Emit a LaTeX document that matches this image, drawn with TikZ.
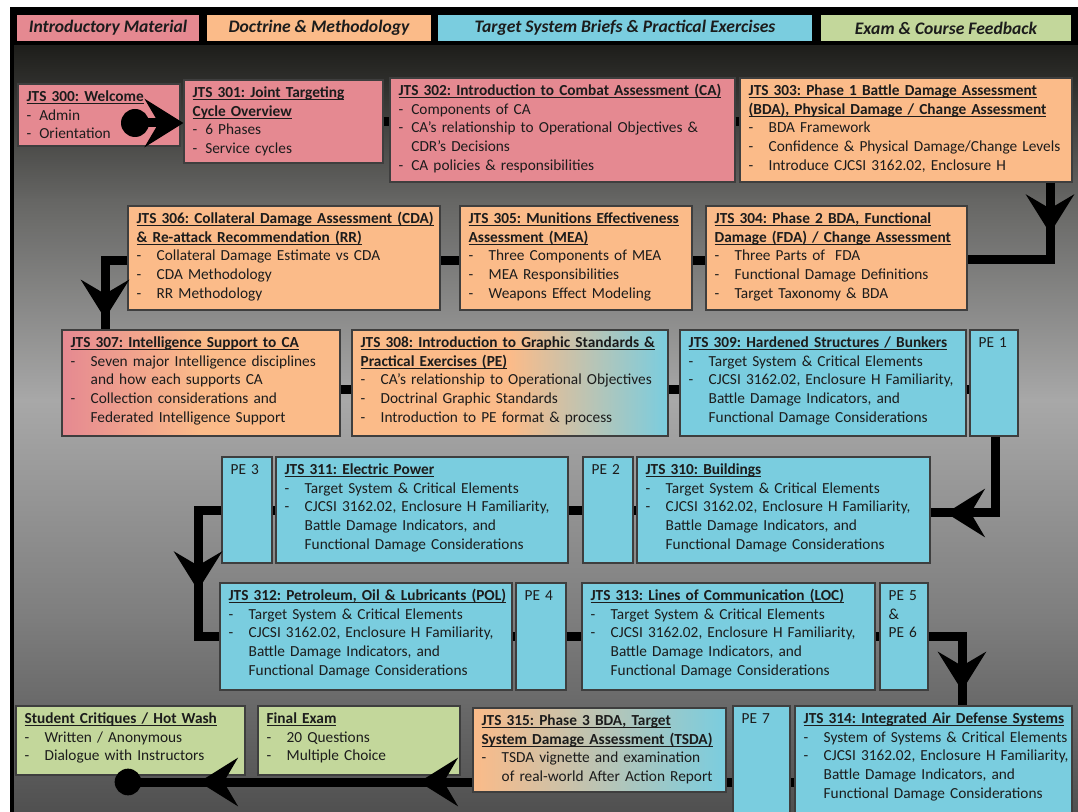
\documentclass[tikz,border=0pt]{standalone}
\usepackage{fontspec}
\setmainfont{Carlito}
\usetikzlibrary{%
  arrows.meta,%
  calc,%
  fit,%
  decorations.markings%
}
\frenchspacing

\definecolor{intro}{RGB}{229,137,145}
\definecolor{doctrine}{RGB}{251,187,137}
\definecolor{target}{RGB}{122,205,223}
\definecolor{exam}{RGB}{195,215,155}
\definecolor{edge}{RGB}{62,62,62}
\definecolor{ink}{RGB}{28,28,28}
\definecolor{bgA}{RGB}{30,30,27}
\definecolor{bgB}{RGB}{102,102,100}
\definecolor{bgC}{RGB}{168,168,168}
\definecolor{bgD}{RGB}{125,125,125}
\definecolor{bgE}{RGB}{80,80,80}

\newcommand{\tit}[1]{\textbf{\setbox0\hbox{#1}\rlap{\rule[-1.8pt]{\wd0}{0.7pt}}\box0}}
\newcommand{\itm}{\makebox[15pt][l]{-}}
\newcommand{\itn}{\makebox[9.5pt][l]{-}}
\newcommand{\ind}{\hspace*{15pt}}
\newcommand{\course}[4]{%
  \node[cbox,#2,fit={#3}] (#1) {};
  \node[ctext] (#1-t) at ([shift={(9,18)}]#1.north west) {#4};}

\tikzset{
  cbox/.style={draw=edge,line width=0.9pt,inner sep=0pt,rectangle},
  ctext/.style={anchor=base west,align=left,text width=300pt,inner sep=0pt,
    text=ink,font=\fontsize{11.5}{14}\selectfont},
  hbox/.style={draw=black,line width=0.8pt,inner sep=0pt,text=ink,
    minimum height=21pt,font=\fontsize{13.2}{15}\selectfont\bfseries\itshape},
  flow/.style={line width=6.75pt,black},
  flowtip/.tip={Stealth[length=29pt,width=36pt,inset=10.5pt]},
  midtip/.style={postaction={decorate},
    decoration={markings,mark=at position #1 with {\arrow{flowtip}}}}
}

\begin{document}
\begin{tikzpicture}[x=0.75pt,y=-0.75pt]
    \useasboundingbox (0,0) rectangle (1078,812);
    % frame and background
    \fill[black] (10,7) rectangle (1078,812);
    \shade[top color=bgA,bottom color=bgB] (14,46) rectangle (1078,201);
    \shade[top color=bgB,bottom color=bgC] (14,200) rectangle (1078,401);
    \shade[top color=bgC,bottom color=bgD] (14,400) rectangle (1078,621);
    \shade[top color=bgD,bottom color=bgE] (14,620) rectangle (1078,812);

    % legend
    \node[hbox,fill=intro,minimum width=138pt] (h1) at (108,28) {Introductory Material};
    \node[hbox,fill=doctrine,minimum width=169.5pt] (h2) at (319,28) {Doctrine \& Methodology};
    \node[hbox,fill=target,minimum width=282pt] (h3) at (625,28) {Target System Briefs \& Practical Exercises};
    \node[hbox,fill=exam,minimum width=189pt] (h4) at (946,28) {Exam \& Course Feedback};

    % row 1
    \course{j300}{fill=intro}{(18,84) (180,146)}{\tit{JTS 300: Welcome}\\\itn Admin\\\itn Orientation}
    \course{j301}{fill=intro}{(184,80) (383,163)}{\tit{JTS 301: Joint Targeting}\\\tit{Cycle Overview}\\\itn 6 Phases\\\itn Service cycles}
    \course{j302}{fill=intro}{(390,78) (735,182)}{\tit{JTS 302: Introduction to Combat Assessment (CA)}\\\itn Components of CA\\\itn CA’s relationship to Operational Objectives \&\\\hspace*{9.5pt}CDR’s Decisions\\\itn CA policies \& responsibilities}
    \course{j303}{fill=doctrine}{(740,78) (1072,182)}{\tit{JTS 303: Phase 1 Battle Damage Assessment}\\\tit{(BDA), Physical Damage / Change Assessment}\\\itm BDA Framework\\\itm Confidence \& Physical Damage/Change Levels\\\itm Introduce CJCSI 3162.02, Enclosure H}

    % row 2
    \course{j306}{fill=doctrine}{(128,206) (440,310)}{\tit{JTS 306: Collateral Damage Assessment (CDA)}\\\tit{\& Re-attack Recommendation (RR)}\\\itm Collateral Damage Estimate vs CDA\\\itm CDA Methodology\\\itm RR Methodology}
    \course{j305}{fill=doctrine}{(460,206) (692,310)}{\tit{JTS 305: Munitions Effectiveness}\\\tit{Assessment (MEA)}\\\itm Three Components of MEA\\\itm MEA Responsibilities\\\itm Weapons Effect Modeling}
    \course{j304}{fill=doctrine}{(706,206) (967,310)}{\tit{JTS 304: Phase 2 BDA, Functional}\\\tit{Damage (FDA) / Change Assessment}\\\itm Three Parts of~ FDA\\\itm Functional Damage Definitions\\\itm Target Taxonomy \& BDA}

    % row 3
    \course{j307}{left color=intro,right color=doctrine,middle color=doctrine}{(62,330) (340,436)}{\tit{JTS 307: Intelligence Support to CA}\\\itm Seven major Intelligence disciplines\\\ind and how each supports CA\\\itm Collection considerations and\\\ind Federated Intelligence Support}
    \course{j308}{left color=doctrine,right color=target,middle color=doctrine}{(352,330) (668,436)}{\tit{JTS 308: Introduction to Graphic Standards \&}\\\tit{Practical Exercises (PE)}\\\itm CA’s relationship to Operational Objectives\\\itm Doctrinal Graphic Standards\\\itm Introduction to PE format \& process}
    \course{j309}{fill=target}{(680,330) (966,436)}{\tit{JTS 309: Hardened Structures / Bunkers}\\\itm Target System \& Critical Elements\\\itm CJCSI 3162.02, Enclosure H Familiarity,\\\ind Battle Damage Indicators, and\\\ind Functional Damage Considerations}
    \course{pe1}{fill=target}{(970,330) (1018,436)}{PE 1}

    % row 4
    \course{pe3}{fill=target}{(222,457) (272,563)}{PE 3}
    \course{j311}{fill=target}{(276,457) (568,563)}{\tit{JTS 311: Electric Power}\\\itm Target System \& Critical Elements\\\itm CJCSI 3162.02, Enclosure H Familiarity,\\\ind Battle Damage Indicators, and\\\ind Functional Damage Considerations}
    \course{pe2}{fill=target}{(583,457) (633,563)}{PE 2}
    \course{j310}{fill=target}{(637,457) (930,563)}{\tit{JTS 310: Buildings}\\\itm Target System \& Critical Elements\\\itm CJCSI 3162.02, Enclosure H Familiarity,\\\ind Battle Damage Indicators, and\\\ind Functional Damage Considerations}

    % row 5
    \course{j312}{fill=target}{(220,583) (512,690)}{\tit{JTS 312: Petroleum, Oil \& Lubricants (POL)}\\\itm Target System \& Critical Elements\\\itm CJCSI 3162.02, Enclosure H Familiarity,\\\ind Battle Damage Indicators, and\\\ind Functional Damage Considerations}
    \course{pe4}{fill=target}{(516,583) (566,690)}{PE 4}
    \course{j313}{fill=target}{(582,583) (875,690)}{\tit{JTS 313: Lines of Communication (LOC)}\\\itm Target System \& Critical Elements\\\itm CJCSI 3162.02, Enclosure H Familiarity,\\\ind Battle Damage Indicators, and\\\ind Functional Damage Considerations}
    \course{pe5}{fill=target}{(880,583) (928,690)}{PE 5\\\&\\PE 6}

    % row 6
    \course{crit}{fill=exam}{(16,706) (245,775)}{\tit{Student Critiques / Hot Wash}\\\itm Written / Anonymous\\\itm Dialogue with Instructors}
    \course{exam}{fill=exam}{(258,706) (460,775)}{\tit{Final Exam}\\\itm 20 Questions\\\itm Multiple Choice}
    \course{j315}{left color=doctrine,right color=target}{(473,708) (726,792)}{\tit{JTS 315: Phase 3 BDA, Target}\\\tit{System Damage Assessment (TSDA)}\\\itm TSDA vignette and examination\\\ind of real-world After Action Report}
    \course{pe7}{fill=target}{(733,706) (790,815)}{PE 7}
    \course{j314}{fill=target}{(795,706) (1072,815)}{\tit{JTS 314: Integrated Air Defense Systems}\\\itm System of Systems \& Critical Elements\\\itm CJCSI 3162.02, Enclosure H Familiarity,\\\ind Battle Damage Indicators, and\\\ind Functional Damage Considerations}

    % flow
    \coordinate (begin) at (135,123);
    \coordinate (bendA) at (1050,260);
    \coordinate (bendB) at (105,261);
    \coordinate (bendC) at (995,513);
    \coordinate (bendD) at (198,511);
    \coordinate (bendE) at (198,636);
    \coordinate (bendF) at (962,636);
    \coordinate (finish) at (128,782);
    \coordinate (row1) at (0,122);
    \coordinate (row2) at (0,261);
    \coordinate (row3) at (0,390);
    \coordinate (row4) at (0,511);
    \coordinate (row5) at (0,636);
    \coordinate (row6) at (0,782);

    \fill (begin) circle[radius=10.5pt];
    \draw[flow,-{flowtip}] (begin) -- (j301.west |- begin);
    \draw[flow] (j301.east |- row1) -- (j302.west |- row1);
    \draw[flow] (j302.east |- row1) -- (j303.west |- row1);
    \draw[flow,midtip=38pt] (j303.south -| bendA) -- (bendA) -- (j304.east |- bendA);
    \draw[flow] (j304.west |- row2) -- (j305.east |- row2);
    \draw[flow] (j305.west |- row2) -- (j306.east |- row2);
    \draw[flow,midtip=60pt] (j306.west |- bendB) -- (bendB) -- (bendB |- j307.north);
    \draw[flow] (j307.east |- row3) -- (j308.west |- row3);
    \draw[flow] (j308.east |- row3) -- (j309.west |- row3);
    \draw[flow] (j309.east |- row3) -- (pe1.west |- row3);
    \draw[flow,midtip=94pt] (pe1.south -| bendC) -- (bendC) -- (j310.east |- bendC);
    \draw[flow] (j310.west |- row4) -- (pe2.east |- row4);
    \draw[flow] (pe2.west |- row4) -- (j311.east |- row4);
    \draw[flow] (j311.west |- row4) -- (pe3.east |- row4);
    \draw[flow,midtip=77pt] (pe3.west |- bendD) -- (bendD) -- (bendE) -- (j312.west |- bendE);
    \draw[flow] (j312.east |- row5) -- (pe4.west |- row5);
    \draw[flow] (pe4.east |- row5) -- (j313.west |- row5);
    \draw[flow] (j313.east |- row5) -- (pe5.west |- row5);
    \draw[flow,midtip=66pt] (pe5.east |- bendF) -- (bendF) -- (bendF |- j314.north);
    \draw[flow] (j314.west |- row6) -- (pe7.east |- row6);
    \draw[flow] (pe7.west |- row6) -- (j315.east |- row6);
    \draw[flow,postaction={decorate},decoration={markings,
        mark=at position 40pt with {\arrow{flowtip}},
        mark=at position 205pt with {\arrow{flowtip}}}]
      (j315.west |- finish) -- (finish);
    \fill (finish) circle[radius=10pt];
  \end{tikzpicture}
\end{document}
